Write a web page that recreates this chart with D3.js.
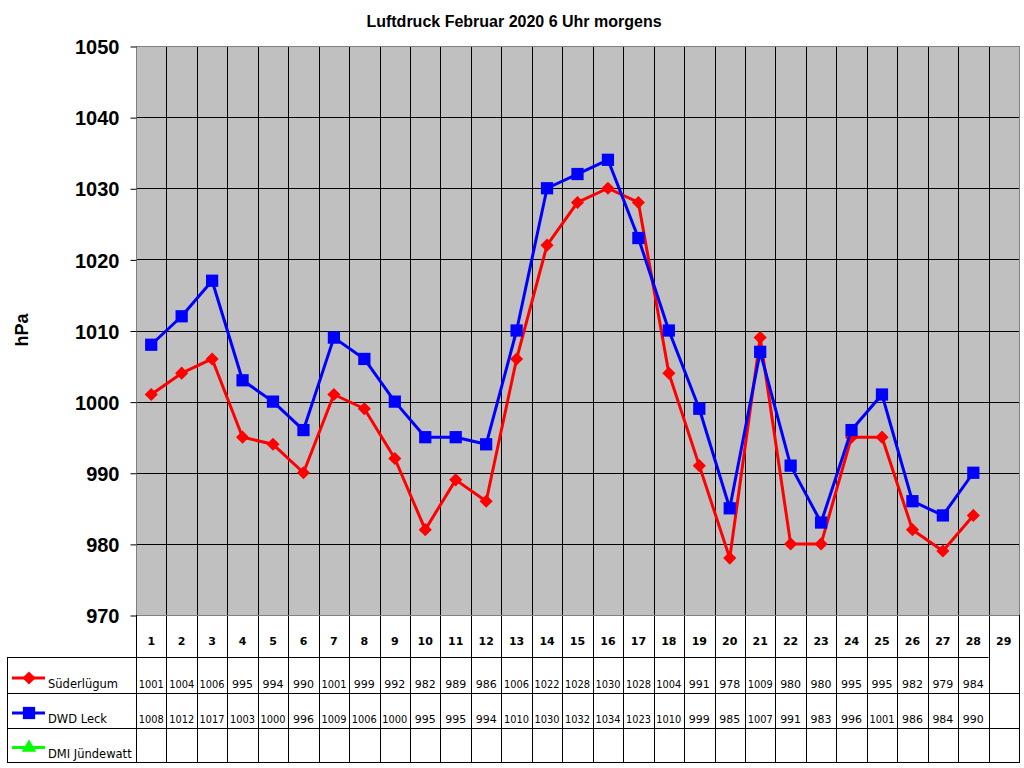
<!DOCTYPE html>
<html>
  <head>
    <meta charset="utf-8">
    <title>Luftdruck Februar 2020</title>
    <script src="https://d3js.org/d3.v7.min.js"></script>
    <style>
      body { margin: 0; background: #fff; }
    </style>
  </head>
  <body>
    <script>
      // daily values, 6 o'clock
      var days = d3.range(1, 30);
      var suederluegum = [1001,1004,1006,995,994,990,1001,999,992,982,989,986,1006,1022,1028,1030,1028,1004,991,978,1009,980,980,995,995,982,979,984];
      var dwdLeck = [1008,1012,1017,1003,1000,996,1009,1006,1000,995,995,994,1010,1030,1032,1034,1023,1010,999,985,1007,991,983,996,1001,986,984,990];
      var dmiJuendewatt = [];
      var yTicks = [970,980,990,1000,1010,1020,1030,1040,1050];

      var series = [
        {name: "Süderlügum", values: suederluegum, color: "#ff0000", marker: "diamond"},
        {name: "DWD Leck", values: dwdLeck, color: "#0000ff", marker: "square"},
        {name: "DMI Jündewatt", values: dmiJuendewatt, color: "#00ff00", marker: "triangle"}
      ];

      var width = 1024, height = 768;
      var plotLeft = 136, plotRight = 1019, plotTop = 46, plotBottom = 615;
      var rowY = [615, 657, 692.5, 727.5, 762];
      var sansFont = "Liberation Sans, Arial, sans-serif";
      var tblFont = "DejaVu Sans, sans-serif";

      var svg = d3.select("body").append("svg")
        .attr("width", width)
        .attr("height", height)
        .attr("font-family", sansFont);

      var x = d3.scaleBand().domain(days).range([plotLeft, plotRight]).padding(0);
      var y = d3.scaleLinear().domain([970, 1050]).range([plotBottom, plotTop]);

      // plot background
      svg.append("rect")
        .attr("x", plotLeft).attr("y", plotTop)
        .attr("width", plotRight - plotLeft).attr("height", plotBottom - plotTop)
        .attr("fill", "#c0c0c0");

      // horizontal grid
      svg.append("g").selectAll("line")
        .data(yTicks.slice(1, -1))
        .enter().append("line")
          .attr("x1", plotLeft).attr("x2", plotRight)
          .attr("y1", function(d) { return Math.round(y(d)) + 0.5; })
          .attr("y2", function(d) { return Math.round(y(d)) + 0.5; })
          .attr("stroke", "#000").attr("stroke-width", 1);

      // vertical grid, runs down through the table
      svg.append("g").selectAll("line")
        .data(days.slice(1))
        .enter().append("line")
          .attr("x1", function(d) { return Math.round(x(d)) + 0.5; })
          .attr("x2", function(d) { return Math.round(x(d)) + 0.5; })
          .attr("y1", plotTop).attr("y2", rowY[4])
          .attr("stroke", "#000").attr("stroke-width", 1);

      // plot border
      svg.append("rect")
        .attr("x", plotLeft + 0.5).attr("y", plotTop + 0.5)
        .attr("width", plotRight - plotLeft).attr("height", plotBottom - plotTop)
        .attr("fill", "none").attr("stroke", "#808080").attr("stroke-width", 1);

      // y axis
      var yAxis = svg.append("g")
        .attr("transform", "translate(" + (plotLeft + 0.5) + ",0.5)")
        .call(d3.axisLeft(y).tickValues(yTicks).tickSize(6).tickPadding(11).tickFormat(d3.format("d")));
      yAxis.select(".domain").remove();
      yAxis.selectAll(".tick line").attr("stroke", "#000");
      yAxis.selectAll(".tick text")
        .attr("font-family", sansFont)
        .attr("font-size", "20px").attr("font-weight", "bold").attr("fill", "#000")
        .attr("dy", "0.36em");

      svg.append("text")
        .attr("transform", "translate(28,330) rotate(-90)")
        .attr("text-anchor", "middle")
        .attr("font-size", "18px").attr("font-weight", "bold")
        .text("hPa");

      svg.append("text")
        .attr("x", 514).attr("y", 27)
        .attr("text-anchor", "middle")
        .attr("font-size", "16px").attr("font-weight", "bold")
        .text("Luftdruck Februar 2020 6 Uhr morgens");

      // marker shapes
      function markerPath(type) {
        if (type == "diamond") return d3.symbol().type(d3.symbolDiamond2).size(110)();
        if (type == "square") return d3.symbol().type(d3.symbolSquare).size(150)();
        return d3.symbol().type(d3.symbolTriangle).size(90)();
      }

      var line = d3.line()
        .x(function(d, i) { return x(days[i]) + x.bandwidth() / 2; })
        .y(function(d) { return y(d); });

      series.forEach(function(s) {
        if (!s.values.length) return;
        svg.append("path")
          .datum(s.values)
          .attr("d", line)
          .attr("fill", "none")
          .attr("stroke", s.color)
          .attr("stroke-width", 3)
          .attr("stroke-linejoin", "round");
        svg.append("g").selectAll("path")
          .data(s.values)
          .enter().append("path")
            .attr("d", markerPath(s.marker))
            .attr("transform", function(d, i) {
              return "translate(" + (x(days[i]) + x.bandwidth() / 2) + "," + y(d) + ")";
            })
            .attr("fill", s.color);
      });

      // data table
      var tbl = svg.append("g")
        .attr("font-family", tblFont)
        .attr("font-size", "11px");
      var grid = tbl.append("g");
      grid.append("line")
        .attr("x1", plotLeft + 0.5).attr("x2", plotLeft + 0.5).attr("y1", plotBottom).attr("y2", rowY[4]);
      grid.append("line")
        .attr("x1", plotRight + 0.5).attr("x2", plotRight + 0.5).attr("y1", plotBottom).attr("y2", rowY[4]);
      grid.append("line")
        .attr("x1", 7.5).attr("x2", 7.5).attr("y1", rowY[1]).attr("y2", rowY[4]);
      [1, 2, 3, 4].forEach(function(r) {
        grid.append("line")
          .attr("x1", 7)
          .attr("x2", r < 2 ? x(29) : plotRight + 1)
          .attr("y1", Math.round(rowY[r]) + 0.5).attr("y2", Math.round(rowY[r]) + 0.5);
      });
      grid.selectAll("line")
        .attr("stroke", "#000").attr("stroke-width", 1);

      tbl.selectAll("text.day")
        .data(days)
        .enter().append("text")
          .attr("class", "day")
          .attr("x", function(d) { return x(d) + x.bandwidth() / 2; })
          .attr("y", 645)
          .attr("text-anchor", "middle")
          .attr("font-weight", "bold")
          .text(function(d) { return d; });

      series.forEach(function(s, r) {
        var base = rowY[r + 2] - 4.5;
        var mid = rowY[r + 2] - 14.5;
        tbl.append("line")
          .attr("x1", 12).attr("x2", 45).attr("y1", mid).attr("y2", mid)
          .attr("stroke", s.color).attr("stroke-width", 3);
        tbl.append("path")
          .attr("d", markerPath(s.marker))
          .attr("transform", "translate(29," + mid + ")")
          .attr("fill", s.color);
        tbl.append("text")
          .attr("x", 48).attr("y", base)
          .attr("font-size", "11.5px")
          .text(s.name);
        tbl.selectAll("text.v" + r)
          .data(s.values)
          .enter().append("text")
            .attr("class", "v" + r)
            .attr("x", function(d, i) { return x(days[i]) + x.bandwidth() / 2; })
            .attr("y", base)
            .attr("text-anchor", "middle")
            .attr("textLength", function(d) { return String(d).length > 3 ? 25 : null; })
            .attr("lengthAdjust", "spacingAndGlyphs")
            .text(function(d) { return d; });
      });
    </script>
  </body>
</html>
